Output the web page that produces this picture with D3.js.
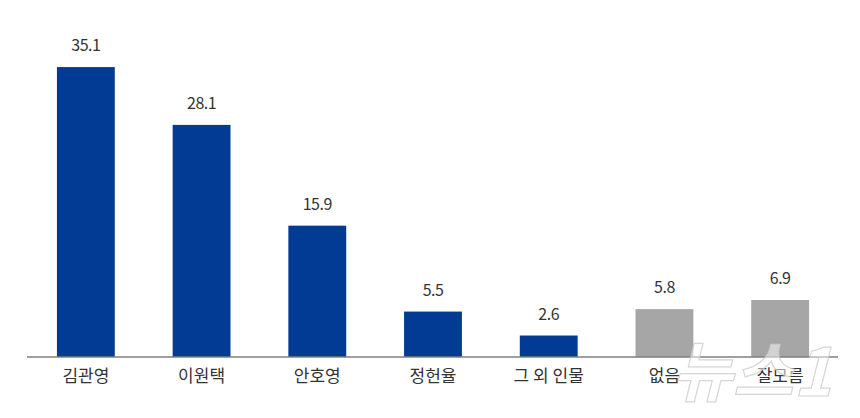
<!DOCTYPE html>
<html>
<head>
<meta charset="utf-8">
<script src="https://cdn.jsdelivr.net/npm/d3@7"></script>
<style>
  body { margin: 0; background: #fff; }
  svg text { font-family: "Noto Sans CJK KR", "Noto Sans", sans-serif; }
</style>
</head>
<body>
<div id="chart"></div>
<script>
// 후보 / 응답
var names = ["김관영", "이원택", "안호영", "정헌율", "그 외 인물", "없음", "잘모름"];
var values = [35.1, 28.1, 15.9, 5.5, 2.6, 5.8, 6.9];
var colors = ["#023b93", "#023b93", "#023b93", "#023b93", "#023b93", "#a6a6a6", "#a6a6a6"];

var W = 860, H = 418, base = 357;
var svg = d3.select("#chart").append("svg").attr("width", W).attr("height", H);

var x = d3.scaleBand().domain(names).range([28, 838]).paddingInner(0.5).paddingOuter(0.25);
var y = d3.scaleLinear().domain([0, 40]).range([base, base - 40 * 8.26]);

svg.selectAll("rect.bar")
  .data(names).enter().append("rect")
  .attr("class", "bar")
  .attr("x", function(d) { return x(d); })
  .attr("width", x.bandwidth())
  .attr("y", function(d, i) { return y(values[i]); })
  .attr("height", function(d, i) { return base - y(values[i]); })
  .style("fill", function(d, i) { return colors[i]; });

// 기준선
svg.append("line")
  .attr("x1", 27).attr("x2", 838)
  .attr("y1", base).attr("y2", base)
  .style("stroke", "#7f7f7f").style("stroke-width", 1.5);

// 값
svg.selectAll("text.val")
  .data(names).enter().append("text")
  .attr("class", "val")
  .attr("x", function(d) { return x(d) + x.bandwidth() / 2; })
  .attr("y", function(d, i) { return y(values[i]) - 16; })
  .style("text-anchor", "middle")
  .style("font-size", "16px")
  .style("fill", "#333")
  .style("letter-spacing", "-0.5px")
  .text(function(d, i) { return values[i].toFixed(1); });

// 이름
svg.selectAll("text.name")
  .data(names).enter().append("text")
  .attr("class", "name")
  .attr("x", function(d) { return x(d) + x.bandwidth() / 2; })
  .attr("y", base + 25)
  .style("text-anchor", "middle")
  .style("font-size", "17px")
  .style("fill", "#333")
  .text(function(d) { return d; });

// 워터마크
svg.append("text")
  .attr("x", 752).attr("y", 396)
  .style("text-anchor", "middle")
  .style("font-size", "66px")
  .style("font-weight", "bold")
  .style("font-style", "italic")
  .style("fill", "#ffffff").style("fill-opacity", 0.5)
  .style("stroke", "#cccccc").style("stroke-width", 1.2).style("stroke-opacity", 0.8)
  .text("뉴스1");
</script>
</body>
</html>
